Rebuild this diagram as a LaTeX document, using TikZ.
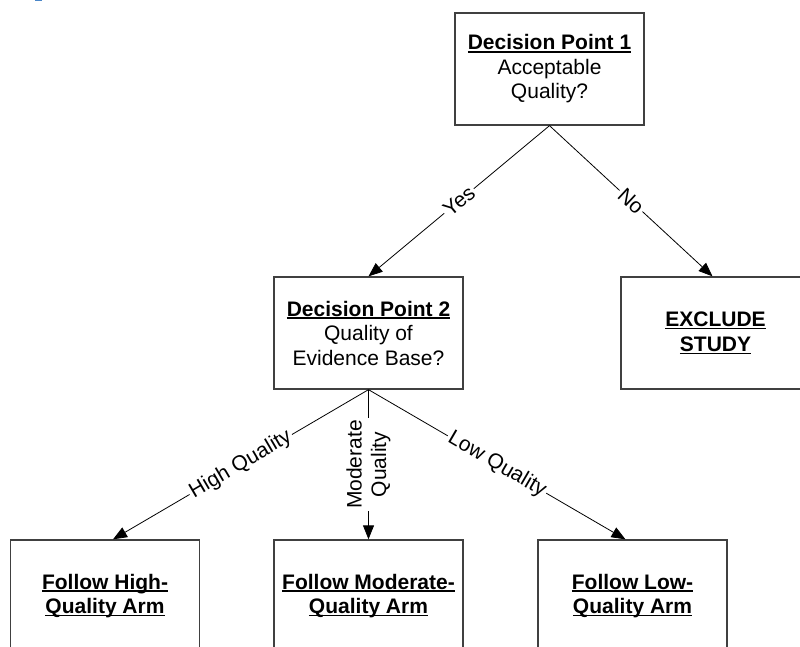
\documentclass[tikz,border=0pt]{standalone}
\usepackage{fontspec}
\setmainfont{Liberation Sans}
\usetikzlibrary{arrows.meta}
\definecolor{boxline}{HTML}{404040}
\definecolor{capblue}{HTML}{4A86C8}
% underline at a fixed depth, crossing descenders
\newcommand\ulbox[1]{\setbox0\hbox{#1}\rlap{\rule[-2.6pt]{\wd0}{1.3pt}}\box0}
\begin{document}
\begin{tikzpicture}[x=1pt,y=-1pt,
  box/.style={draw=boxline, line width=1.3pt, minimum width=189pt,
    minimum height=112pt, align=center, inner sep=0pt,
    font=\fontsize{21}{24.5}\selectfont},
  link/.style={draw=black, line width=0.8pt,
    -{Triangle[length=14pt,width=11pt]}},
  tag/.style={fill=white, inner sep=2pt, font=\fontsize{21}{24.5}\selectfont}]
  \fill[white] (0,0) rectangle (800,647);
  \useasboundingbox (0,0) rectangle (800,647);
  \clip (0,0) rectangle (800,647);
  \fill[capblue] (35,0) rectangle (42,1.5);

  \node[box] (dp1) at (549.5,69) {\ulbox{\textbf{Decision Point 1}}\\Acceptable\\Quality?};
  \node[box] (dp2) at (368.5,333) {\ulbox{\textbf{Decision Point 2}}\\Quality of\\Evidence Base?};
  \node[box] (excl) at (715.5,333) {\ulbox{\textbf{EXCLUDE}}\\\ulbox{\textbf{STUDY}}};
  \node[box] (hq) at (105,596) {\ulbox{\textbf{Follow High-}}\\\ulbox{\textbf{Quality Arm}}};
  \node[box] (mq) at (368.5,596) {\ulbox{\textbf{Follow Moderate-}}\\\ulbox{\textbf{Quality Arm}}};
  \node[box] (lq) at (632.5,596) {\ulbox{\textbf{Follow Low-}}\\\ulbox{\textbf{Quality Arm}}};

  \draw[link] (dp1.south) -- node[tag, sloped] {Yes} (dp2.north);
  \draw[link] (dp1.south) -- node[tag, sloped] {No} ([xshift=-3pt]excl.north);
  \draw[link] (dp2.south) -- node[tag, sloped] {High Quality} ([xshift=8pt]hq.north);
  \draw[link] (dp2.south) -- node[tag, rotate=90, align=center] {Moderate\\Quality} (mq.north);
  \draw[link] (dp2.south) -- node[tag, sloped] {Low Quality} ([xshift=-7pt]lq.north);
\end{tikzpicture}
\end{document}
